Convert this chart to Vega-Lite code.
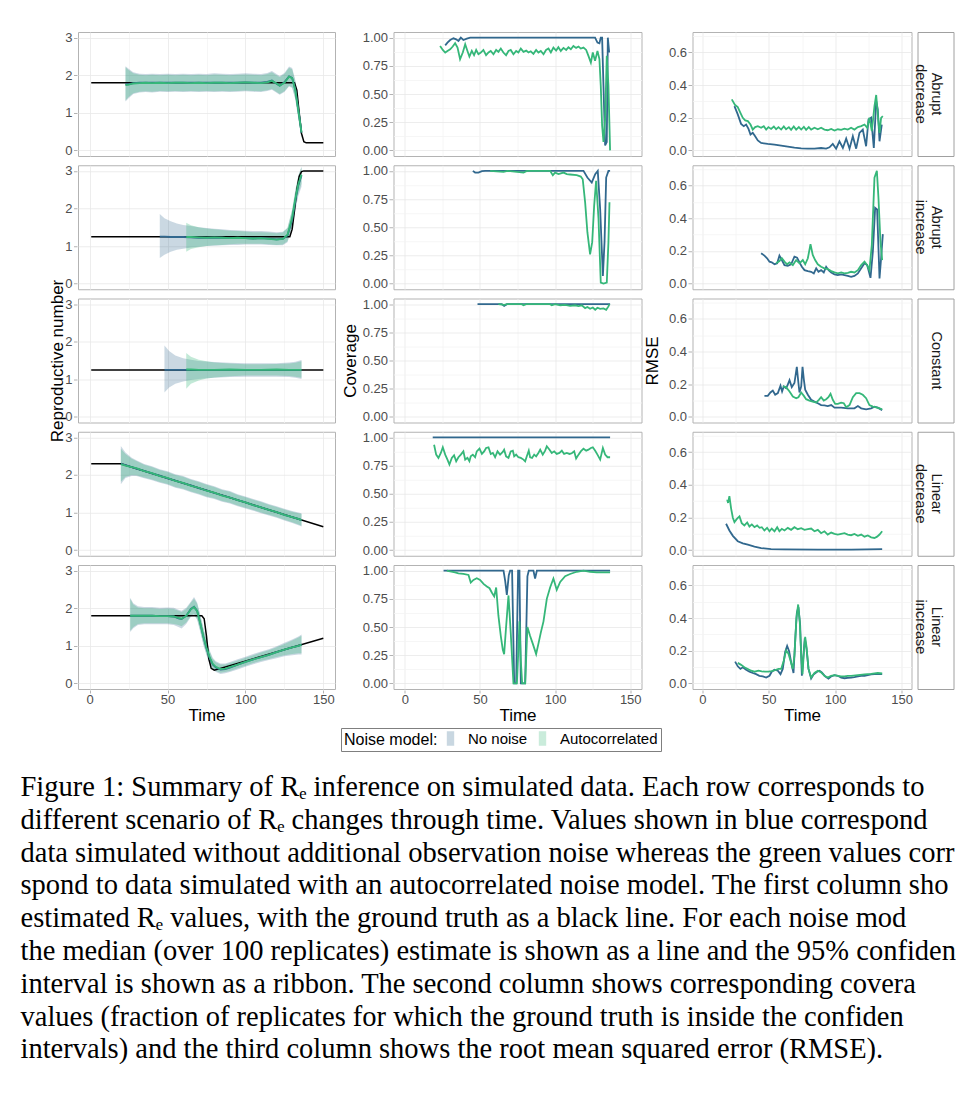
{
  "$schema": "https://vega.github.io/schema/vega-lite/v6.json",
  "padding": {"left": 20, "top": 30, "right": 0, "bottom": 0},
  "background": "white",
  "config": {
    "view": {"stroke": "#b3b3b3", "strokeWidth": 1},
    "font": "Liberation Sans",
    "axis": {
      "labelFont": "Liberation Sans", "labelFontSize": 13, "labelColor": "#4d4d4d",
      "tickColor": "#b3b3b3", "tickSize": 3.5, "labelPadding": 1.5, "domain": false,
      "gridWidth": 0.8, "labelOverlap": false,
      "titleFont": "Liberation Sans", "titleFontSize": 17, "titleFontWeight": "normal", "titleColor": "black"
    },
    "axisX": {"labelPadding": 0.5, "tickSize": 3},
    "header": {"titleFont": "Liberation Sans", "titleFontSize": 17, "titleFontWeight": "normal", "titleColor": "black", "labels": false, "labelPadding": 0},
    "legend": {
      "orient": "bottom", "direction": "horizontal", "titleOrient": "left",
      "titleFont": "Liberation Sans", "titleFontSize": 16, "titleFontWeight": "normal", "titleColor": "black",
      "labelFont": "Liberation Sans", "labelFontSize": 15, "labelColor": "black",
      "symbolType": "M-0.45,-1H0.45V1H-0.45Z M-0.45,0H0.45", "symbolSize": 169,
      "labelOffset": 10, "columnPadding": 7, "titlePadding": 5,
      "strokeColor": "#7f7f7f", "padding": 3, "offset": 4,
      "layout": {"bottom": {"anchor": "middle"}}
    }
  },
  "title": {
    "text": [
      "Figure 1: Summary of Rₑ inference on simulated data. Each row corresponds to",
      "different scenario of Rₑ changes through time. Values shown in blue correspond",
      "data simulated without additional observation noise whereas the green values corr",
      "spond to data simulated with an autocorrelated noise model. The first column sho",
      "estimated Rₑ values, with the ground truth as a black line. For each noise mod",
      "the median (over 100 replicates) estimate is shown as a line and the 95% confiden",
      "interval is shown as a ribbon. The second column shows corresponding covera",
      "values (fraction of replicates for which the ground truth is inside the confiden",
      "intervals) and the third column shows the root mean squared error (RMSE)."
    ],
    "orient": "bottom", "anchor": "start", "font": "Liberation Serif", "fontSize": 28.5,
    "fontWeight": "normal", "color": "black", "lineHeight": 32.8, "offset": 21.5, "dx": -28
  },
  "datasets": {
    "re": [
      {"s":"A","n":"T","t":1,"m":1.8},{"s":"A","n":"T","t":131.5,"m":1.8},{"s":"A","n":"T","t":133,"m":1.6},{"s":"A","n":"T","t":134.5,"m":1.0},{"s":"A","n":"T","t":136,"m":0.45},{"s":"A","n":"T","t":137.5,"m":0.23},{"s":"A","n":"T","t":139,"m":0.2},{"s":"A","n":"T","t":150,"m":0.2},
      {"s":"B","n":"T","t":1,"m":1.25},{"s":"B","n":"T","t":128.5,"m":1.25},{"s":"B","n":"T","t":130,"m":1.45},{"s":"B","n":"T","t":131.5,"m":1.95},{"s":"B","n":"T","t":133,"m":2.5},{"s":"B","n":"T","t":134.5,"m":2.85},{"s":"B","n":"T","t":136,"m":2.98},{"s":"B","n":"T","t":137.5,"m":3.0},{"s":"B","n":"T","t":150,"m":3.0},
      {"s":"C","n":"T","t":1,"m":1.25},{"s":"C","n":"T","t":150,"m":1.25},
      {"s":"D","n":"T","t":1,"m":2.3},{"s":"D","n":"T","t":20,"m":2.3},{"s":"D","n":"T","t":150,"m":0.62},
      {"s":"E","n":"T","t":1,"m":1.8},{"s":"E","n":"T","t":72,"m":1.8},{"s":"E","n":"T","t":73.5,"m":1.72},{"s":"E","n":"T","t":75,"m":1.25},{"s":"E","n":"T","t":76.5,"m":0.65},{"s":"E","n":"T","t":78,"m":0.4},{"s":"E","n":"T","t":80,"m":0.35},{"s":"E","n":"T","t":150,"m":1.2},

      {"s":"A","n":"N","t":23,"m":1.76,"lo":1.3,"hi":2.24},{"s":"A","n":"N","t":25,"m":1.76,"lo":1.39,"hi":2.17},{"s":"A","n":"N","t":28,"m":1.79,"lo":1.5,"hi":2.08},{"s":"A","n":"N","t":32,"m":1.8,"lo":1.54,"hi":2.04},{"s":"A","n":"N","t":36,"m":1.8,"lo":1.55,"hi":2.03},{"s":"A","n":"N","t":40,"m":1.8,"lo":1.54,"hi":2.04},{"s":"A","n":"N","t":45,"m":1.8,"lo":1.56,"hi":2.03},{"s":"A","n":"N","t":50,"m":1.8,"lo":1.55,"hi":2.04},{"s":"A","n":"N","t":55,"m":1.8,"lo":1.56,"hi":2.03},{"s":"A","n":"N","t":60,"m":1.8,"lo":1.55,"hi":2.04},{"s":"A","n":"N","t":65,"m":1.8,"lo":1.56,"hi":2.03},{"s":"A","n":"N","t":70,"m":1.8,"lo":1.55,"hi":2.04},{"s":"A","n":"N","t":75,"m":1.8,"lo":1.56,"hi":2.03},{"s":"A","n":"N","t":80,"m":1.8,"lo":1.55,"hi":2.05},{"s":"A","n":"N","t":85,"m":1.8,"lo":1.56,"hi":2.04},{"s":"A","n":"N","t":90,"m":1.8,"lo":1.55,"hi":2.03},{"s":"A","n":"N","t":95,"m":1.8,"lo":1.56,"hi":2.04},{"s":"A","n":"N","t":100,"m":1.81,"lo":1.57,"hi":2.05},{"s":"A","n":"N","t":105,"m":1.8,"lo":1.56,"hi":2.04},{"s":"A","n":"N","t":110,"m":1.8,"lo":1.55,"hi":2.03},{"s":"A","n":"N","t":114,"m":1.82,"lo":1.58,"hi":2.06},{"s":"A","n":"N","t":117,"m":1.86,"lo":1.61,"hi":2.11},{"s":"A","n":"N","t":120,"m":1.77,"lo":1.53,"hi":2.03},{"s":"A","n":"N","t":122,"m":1.72,"lo":1.48,"hi":1.98},{"s":"A","n":"N","t":125,"m":1.81,"lo":1.55,"hi":2.06},{"s":"A","n":"N","t":128,"m":1.97,"lo":1.7,"hi":2.23},{"s":"A","n":"N","t":130,"m":1.93,"lo":1.66,"hi":2.19},{"s":"A","n":"N","t":132,"m":1.62,"lo":1.36,"hi":1.87},{"s":"A","n":"N","t":134,"m":1.06,"lo":0.83,"hi":1.31},{"s":"A","n":"N","t":136,"m":0.47,"lo":0.3,"hi":0.69},
      {"s":"A","n":"A","t":23,"m":1.74,"lo":1.33,"hi":2.21},{"s":"A","n":"A","t":25,"m":1.75,"lo":1.42,"hi":2.14},{"s":"A","n":"A","t":28,"m":1.78,"lo":1.52,"hi":2.05},{"s":"A","n":"A","t":32,"m":1.79,"lo":1.56,"hi":2.01},{"s":"A","n":"A","t":36,"m":1.8,"lo":1.57,"hi":2.0},{"s":"A","n":"A","t":40,"m":1.79,"lo":1.56,"hi":2.01},{"s":"A","n":"A","t":45,"m":1.8,"lo":1.58,"hi":2.0},{"s":"A","n":"A","t":50,"m":1.79,"lo":1.57,"hi":2.01},{"s":"A","n":"A","t":55,"m":1.8,"lo":1.58,"hi":2.0},{"s":"A","n":"A","t":60,"m":1.8,"lo":1.57,"hi":2.01},{"s":"A","n":"A","t":65,"m":1.79,"lo":1.58,"hi":2.0},{"s":"A","n":"A","t":70,"m":1.8,"lo":1.57,"hi":2.01},{"s":"A","n":"A","t":75,"m":1.79,"lo":1.58,"hi":2.0},{"s":"A","n":"A","t":80,"m":1.8,"lo":1.57,"hi":2.02},{"s":"A","n":"A","t":85,"m":1.8,"lo":1.58,"hi":2.01},{"s":"A","n":"A","t":90,"m":1.79,"lo":1.57,"hi":2.0},{"s":"A","n":"A","t":95,"m":1.8,"lo":1.58,"hi":2.01},{"s":"A","n":"A","t":100,"m":1.81,"lo":1.59,"hi":2.02},{"s":"A","n":"A","t":105,"m":1.8,"lo":1.58,"hi":2.01},{"s":"A","n":"A","t":110,"m":1.79,"lo":1.57,"hi":2.0},{"s":"A","n":"A","t":114,"m":1.81,"lo":1.6,"hi":2.03},{"s":"A","n":"A","t":117,"m":1.85,"lo":1.63,"hi":2.08},{"s":"A","n":"A","t":120,"m":1.78,"lo":1.55,"hi":2.0},{"s":"A","n":"A","t":122,"m":1.72,"lo":1.5,"hi":1.95},{"s":"A","n":"A","t":125,"m":1.8,"lo":1.57,"hi":2.03},{"s":"A","n":"A","t":128,"m":1.96,"lo":1.72,"hi":2.2},{"s":"A","n":"A","t":130,"m":1.92,"lo":1.68,"hi":2.16},{"s":"A","n":"A","t":132,"m":1.6,"lo":1.38,"hi":1.84},{"s":"A","n":"A","t":134,"m":1.05,"lo":0.85,"hi":1.28},{"s":"A","n":"A","t":136,"m":0.48,"lo":0.32,"hi":0.66},

      {"s":"B","n":"N","t":45,"m":1.25,"lo":0.68,"hi":1.85},{"s":"B","n":"N","t":48,"m":1.25,"lo":0.77,"hi":1.74},{"s":"B","n":"N","t":52,"m":1.24,"lo":0.85,"hi":1.66},{"s":"B","n":"N","t":56,"m":1.24,"lo":0.9,"hi":1.6},{"s":"B","n":"N","t":60,"m":1.24,"lo":0.93,"hi":1.56},{"s":"B","n":"N","t":65,"m":1.23,"lo":0.96,"hi":1.53},{"s":"B","n":"N","t":70,"m":1.22,"lo":0.98,"hi":1.5},{"s":"B","n":"N","t":75,"m":1.22,"lo":1.0,"hi":1.48},{"s":"B","n":"N","t":80,"m":1.22,"lo":1.01,"hi":1.46},{"s":"B","n":"N","t":85,"m":1.22,"lo":1.02,"hi":1.45},{"s":"B","n":"N","t":90,"m":1.21,"lo":1.03,"hi":1.43},{"s":"B","n":"N","t":95,"m":1.21,"lo":1.03,"hi":1.42},{"s":"B","n":"N","t":100,"m":1.21,"lo":1.04,"hi":1.41},{"s":"B","n":"N","t":105,"m":1.2,"lo":1.04,"hi":1.4},{"s":"B","n":"N","t":110,"m":1.21,"lo":1.04,"hi":1.4},{"s":"B","n":"N","t":115,"m":1.2,"lo":1.03,"hi":1.39},{"s":"B","n":"N","t":120,"m":1.18,"lo":1.02,"hi":1.37},{"s":"B","n":"N","t":124,"m":1.19,"lo":1.02,"hi":1.38},{"s":"B","n":"N","t":127,"m":1.28,"lo":1.1,"hi":1.48},{"s":"B","n":"N","t":130,"m":1.7,"lo":1.48,"hi":1.95},{"s":"B","n":"N","t":132,"m":2.2,"lo":1.94,"hi":2.46},{"s":"B","n":"N","t":134,"m":2.62,"lo":2.34,"hi":2.87},{"s":"B","n":"N","t":136,"m":2.88,"lo":2.58,"hi":3.12},
      {"s":"B","n":"A","t":62,"m":1.24,"lo":0.85,"hi":1.62},{"s":"B","n":"A","t":65,"m":1.24,"lo":0.92,"hi":1.55},{"s":"B","n":"A","t":70,"m":1.23,"lo":0.97,"hi":1.5},{"s":"B","n":"A","t":75,"m":1.22,"lo":1.0,"hi":1.47},{"s":"B","n":"A","t":80,"m":1.23,"lo":1.02,"hi":1.45},{"s":"B","n":"A","t":85,"m":1.22,"lo":1.03,"hi":1.43},{"s":"B","n":"A","t":90,"m":1.21,"lo":1.05,"hi":1.41},{"s":"B","n":"A","t":95,"m":1.22,"lo":1.06,"hi":1.4},{"s":"B","n":"A","t":100,"m":1.21,"lo":1.06,"hi":1.39},{"s":"B","n":"A","t":105,"m":1.2,"lo":1.06,"hi":1.37},{"s":"B","n":"A","t":110,"m":1.21,"lo":1.06,"hi":1.37},{"s":"B","n":"A","t":115,"m":1.19,"lo":1.05,"hi":1.36},{"s":"B","n":"A","t":120,"m":1.17,"lo":1.03,"hi":1.34},{"s":"B","n":"A","t":124,"m":1.19,"lo":1.04,"hi":1.36},{"s":"B","n":"A","t":127,"m":1.3,"lo":1.13,"hi":1.49},{"s":"B","n":"A","t":130,"m":1.75,"lo":1.56,"hi":1.98},{"s":"B","n":"A","t":132,"m":2.25,"lo":2.02,"hi":2.48},{"s":"B","n":"A","t":134,"m":2.65,"lo":2.42,"hi":2.88},{"s":"B","n":"A","t":136,"m":2.9,"lo":2.66,"hi":3.1},

      {"s":"C","n":"N","t":48,"m":1.25,"lo":0.65,"hi":1.9},{"s":"C","n":"N","t":51,"m":1.25,"lo":0.78,"hi":1.75},{"s":"C","n":"N","t":55,"m":1.25,"lo":0.88,"hi":1.63},{"s":"C","n":"N","t":60,"m":1.25,"lo":0.94,"hi":1.56},{"s":"C","n":"N","t":65,"m":1.25,"lo":0.98,"hi":1.52},{"s":"C","n":"N","t":70,"m":1.25,"lo":1.01,"hi":1.49},{"s":"C","n":"N","t":80,"m":1.25,"lo":1.04,"hi":1.46},{"s":"C","n":"N","t":90,"m":1.25,"lo":1.06,"hi":1.44},{"s":"C","n":"N","t":100,"m":1.25,"lo":1.07,"hi":1.43},{"s":"C","n":"N","t":110,"m":1.25,"lo":1.07,"hi":1.43},{"s":"C","n":"N","t":120,"m":1.25,"lo":1.07,"hi":1.43},{"s":"C","n":"N","t":128,"m":1.25,"lo":1.06,"hi":1.45},{"s":"C","n":"N","t":132,"m":1.25,"lo":1.04,"hi":1.47},{"s":"C","n":"N","t":136,"m":1.25,"lo":1.01,"hi":1.51},
      {"s":"C","n":"A","t":62,"m":1.26,"lo":0.75,"hi":1.7},{"s":"C","n":"A","t":65,"m":1.26,"lo":0.88,"hi":1.6},{"s":"C","n":"A","t":70,"m":1.25,"lo":0.97,"hi":1.52},{"s":"C","n":"A","t":75,"m":1.25,"lo":1.02,"hi":1.48},{"s":"C","n":"A","t":80,"m":1.25,"lo":1.05,"hi":1.45},{"s":"C","n":"A","t":90,"m":1.26,"lo":1.08,"hi":1.42},{"s":"C","n":"A","t":100,"m":1.25,"lo":1.1,"hi":1.4},{"s":"C","n":"A","t":110,"m":1.25,"lo":1.1,"hi":1.4},{"s":"C","n":"A","t":120,"m":1.26,"lo":1.1,"hi":1.41},{"s":"C","n":"A","t":128,"m":1.25,"lo":1.09,"hi":1.42},{"s":"C","n":"A","t":132,"m":1.25,"lo":1.07,"hi":1.44},{"s":"C","n":"A","t":136,"m":1.25,"lo":1.04,"hi":1.48},

      {"s":"D","n":"N","t":20,"m":2.3,"lo":1.75,"hi":2.77},{"s":"D","n":"N","t":23,"m":2.26,"lo":1.92,"hi":2.6},{"s":"D","n":"N","t":27,"m":2.21,"lo":1.97,"hi":2.46},{"s":"D","n":"N","t":30,"m":2.17,"lo":1.97,"hi":2.39},{"s":"D","n":"N","t":35,"m":2.11,"lo":1.91,"hi":2.29},{"s":"D","n":"N","t":40,"m":2.04,"lo":1.86,"hi":2.23},{"s":"D","n":"N","t":45,"m":1.98,"lo":1.79,"hi":2.15},{"s":"D","n":"N","t":50,"m":1.91,"lo":1.74,"hi":2.1},{"s":"D","n":"N","t":55,"m":1.85,"lo":1.66,"hi":2.02},{"s":"D","n":"N","t":60,"m":1.78,"lo":1.61,"hi":1.97},{"s":"D","n":"N","t":65,"m":1.72,"lo":1.54,"hi":1.89},{"s":"D","n":"N","t":70,"m":1.65,"lo":1.48,"hi":1.83},{"s":"D","n":"N","t":75,"m":1.59,"lo":1.41,"hi":1.76},{"s":"D","n":"N","t":80,"m":1.52,"lo":1.36,"hi":1.7},{"s":"D","n":"N","t":85,"m":1.46,"lo":1.29,"hi":1.62},{"s":"D","n":"N","t":90,"m":1.4,"lo":1.24,"hi":1.57},{"s":"D","n":"N","t":95,"m":1.33,"lo":1.17,"hi":1.49},{"s":"D","n":"N","t":100,"m":1.27,"lo":1.11,"hi":1.43},{"s":"D","n":"N","t":105,"m":1.2,"lo":1.05,"hi":1.36},{"s":"D","n":"N","t":110,"m":1.14,"lo":0.98,"hi":1.3},{"s":"D","n":"N","t":115,"m":1.07,"lo":0.92,"hi":1.23},{"s":"D","n":"N","t":120,"m":1.01,"lo":0.86,"hi":1.17},{"s":"D","n":"N","t":125,"m":0.94,"lo":0.79,"hi":1.1},{"s":"D","n":"N","t":130,"m":0.88,"lo":0.72,"hi":1.04},{"s":"D","n":"N","t":134,"m":0.83,"lo":0.66,"hi":1.0},{"s":"D","n":"N","t":136,"m":0.8,"lo":0.63,"hi":0.98},
      {"s":"D","n":"A","t":20,"m":2.29,"lo":1.82,"hi":2.7},{"s":"D","n":"A","t":23,"m":2.25,"lo":1.95,"hi":2.56},{"s":"D","n":"A","t":27,"m":2.21,"lo":2.0,"hi":2.43},{"s":"D","n":"A","t":30,"m":2.18,"lo":1.99,"hi":2.37},{"s":"D","n":"A","t":35,"m":2.1,"lo":1.93,"hi":2.27},{"s":"D","n":"A","t":40,"m":2.05,"lo":1.88,"hi":2.21},{"s":"D","n":"A","t":45,"m":1.97,"lo":1.81,"hi":2.13},{"s":"D","n":"A","t":50,"m":1.92,"lo":1.76,"hi":2.08},{"s":"D","n":"A","t":55,"m":1.84,"lo":1.68,"hi":2.0},{"s":"D","n":"A","t":60,"m":1.79,"lo":1.63,"hi":1.95},{"s":"D","n":"A","t":65,"m":1.71,"lo":1.56,"hi":1.87},{"s":"D","n":"A","t":70,"m":1.66,"lo":1.5,"hi":1.81},{"s":"D","n":"A","t":75,"m":1.58,"lo":1.43,"hi":1.74},{"s":"D","n":"A","t":80,"m":1.53,"lo":1.38,"hi":1.68},{"s":"D","n":"A","t":85,"m":1.45,"lo":1.31,"hi":1.6},{"s":"D","n":"A","t":90,"m":1.4,"lo":1.26,"hi":1.55},{"s":"D","n":"A","t":95,"m":1.33,"lo":1.19,"hi":1.47},{"s":"D","n":"A","t":100,"m":1.27,"lo":1.13,"hi":1.41},{"s":"D","n":"A","t":105,"m":1.2,"lo":1.07,"hi":1.34},{"s":"D","n":"A","t":110,"m":1.14,"lo":1.0,"hi":1.28},{"s":"D","n":"A","t":115,"m":1.07,"lo":0.94,"hi":1.21},{"s":"D","n":"A","t":120,"m":1.01,"lo":0.88,"hi":1.15},{"s":"D","n":"A","t":125,"m":0.94,"lo":0.81,"hi":1.08},{"s":"D","n":"A","t":130,"m":0.88,"lo":0.74,"hi":1.02},{"s":"D","n":"A","t":134,"m":0.83,"lo":0.68,"hi":0.98},{"s":"D","n":"A","t":136,"m":0.8,"lo":0.65,"hi":0.96},

      {"s":"E","n":"N","t":26,"m":1.8,"lo":1.37,"hi":2.28},{"s":"E","n":"N","t":28,"m":1.8,"lo":1.47,"hi":2.13},{"s":"E","n":"N","t":31,"m":1.8,"lo":1.55,"hi":2.05},{"s":"E","n":"N","t":35,"m":1.8,"lo":1.57,"hi":2.03},{"s":"E","n":"N","t":40,"m":1.8,"lo":1.57,"hi":2.03},{"s":"E","n":"N","t":45,"m":1.79,"lo":1.57,"hi":2.01},{"s":"E","n":"N","t":50,"m":1.79,"lo":1.57,"hi":2.02},{"s":"E","n":"N","t":54,"m":1.78,"lo":1.55,"hi":2.01},{"s":"E","n":"N","t":57,"m":1.73,"lo":1.5,"hi":1.96},{"s":"E","n":"N","t":59,"m":1.71,"lo":1.46,"hi":1.93},{"s":"E","n":"N","t":62,"m":1.8,"lo":1.58,"hi":2.01},{"s":"E","n":"N","t":65,"m":1.98,"lo":1.77,"hi":2.18},{"s":"E","n":"N","t":67,"m":2.04,"lo":1.82,"hi":2.3},{"s":"E","n":"N","t":69,"m":1.93,"lo":1.69,"hi":2.15},{"s":"E","n":"N","t":71,"m":1.6,"lo":1.37,"hi":1.83},{"s":"E","n":"N","t":73,"m":1.24,"lo":1.02,"hi":1.48},{"s":"E","n":"N","t":75,"m":0.93,"lo":0.75,"hi":1.15},{"s":"E","n":"N","t":77,"m":0.68,"lo":0.52,"hi":0.88},{"s":"E","n":"N","t":79,"m":0.5,"lo":0.37,"hi":0.68},{"s":"E","n":"N","t":81,"m":0.42,"lo":0.3,"hi":0.59},{"s":"E","n":"N","t":84,"m":0.37,"lo":0.25,"hi":0.53},{"s":"E","n":"N","t":87,"m":0.38,"lo":0.27,"hi":0.53},{"s":"E","n":"N","t":90,"m":0.42,"lo":0.3,"hi":0.57},{"s":"E","n":"N","t":95,"m":0.5,"lo":0.37,"hi":0.64},{"s":"E","n":"N","t":100,"m":0.57,"lo":0.44,"hi":0.71},{"s":"E","n":"N","t":105,"m":0.64,"lo":0.51,"hi":0.78},{"s":"E","n":"N","t":110,"m":0.7,"lo":0.57,"hi":0.85},{"s":"E","n":"N","t":115,"m":0.76,"lo":0.62,"hi":0.91},{"s":"E","n":"N","t":120,"m":0.83,"lo":0.67,"hi":0.99},{"s":"E","n":"N","t":125,"m":0.9,"lo":0.72,"hi":1.08},{"s":"E","n":"N","t":130,"m":0.96,"lo":0.75,"hi":1.17},{"s":"E","n":"N","t":134,"m":1.0,"lo":0.77,"hi":1.25},{"s":"E","n":"N","t":136,"m":1.03,"lo":0.77,"hi":1.3},
      {"s":"E","n":"A","t":26,"m":1.8,"lo":1.4,"hi":2.25},{"s":"E","n":"A","t":28,"m":1.8,"lo":1.5,"hi":2.1},{"s":"E","n":"A","t":31,"m":1.8,"lo":1.58,"hi":2.02},{"s":"E","n":"A","t":35,"m":1.8,"lo":1.6,"hi":2.0},{"s":"E","n":"A","t":40,"m":1.8,"lo":1.6,"hi":2.0},{"s":"E","n":"A","t":45,"m":1.79,"lo":1.6,"hi":1.98},{"s":"E","n":"A","t":50,"m":1.79,"lo":1.6,"hi":1.99},{"s":"E","n":"A","t":54,"m":1.78,"lo":1.58,"hi":1.98},{"s":"E","n":"A","t":57,"m":1.74,"lo":1.55,"hi":1.93},{"s":"E","n":"A","t":59,"m":1.72,"lo":1.52,"hi":1.9},{"s":"E","n":"A","t":62,"m":1.8,"lo":1.62,"hi":1.98},{"s":"E","n":"A","t":65,"m":1.97,"lo":1.8,"hi":2.15},{"s":"E","n":"A","t":67,"m":2.03,"lo":1.85,"hi":2.25},{"s":"E","n":"A","t":69,"m":1.92,"lo":1.72,"hi":2.12},{"s":"E","n":"A","t":71,"m":1.6,"lo":1.4,"hi":1.8},{"s":"E","n":"A","t":73,"m":1.25,"lo":1.05,"hi":1.45},{"s":"E","n":"A","t":75,"m":0.95,"lo":0.78,"hi":1.12},{"s":"E","n":"A","t":77,"m":0.7,"lo":0.55,"hi":0.85},{"s":"E","n":"A","t":79,"m":0.52,"lo":0.4,"hi":0.65},{"s":"E","n":"A","t":81,"m":0.44,"lo":0.33,"hi":0.56},{"s":"E","n":"A","t":84,"m":0.38,"lo":0.28,"hi":0.5},{"s":"E","n":"A","t":87,"m":0.39,"lo":0.3,"hi":0.5},{"s":"E","n":"A","t":90,"m":0.43,"lo":0.33,"hi":0.54},{"s":"E","n":"A","t":95,"m":0.5,"lo":0.4,"hi":0.61},{"s":"E","n":"A","t":100,"m":0.57,"lo":0.47,"hi":0.68},{"s":"E","n":"A","t":105,"m":0.64,"lo":0.54,"hi":0.75},{"s":"E","n":"A","t":110,"m":0.7,"lo":0.6,"hi":0.82},{"s":"E","n":"A","t":115,"m":0.76,"lo":0.65,"hi":0.88},{"s":"E","n":"A","t":120,"m":0.83,"lo":0.7,"hi":0.96},{"s":"E","n":"A","t":125,"m":0.9,"lo":0.75,"hi":1.05},{"s":"E","n":"A","t":130,"m":0.96,"lo":0.78,"hi":1.14},{"s":"E","n":"A","t":134,"m":1.0,"lo":0.8,"hi":1.22},{"s":"E","n":"A","t":136,"m":1.03,"lo":0.8,"hi":1.27}
    ],
    "cov": [
      {"s":"A","n":"N","t":26.9,"v":0.932},{"s":"A","n":"N","t":28.4,"v":0.956},{"s":"A","n":"N","t":30.2,"v":0.979},{"s":"A","n":"N","t":32.4,"v":0.994},{"s":"A","n":"N","t":34.2,"v":0.985},{"s":"A","n":"N","t":35.7,"v":0.971},{"s":"A","n":"N","t":37.3,"v":1.0},{"s":"A","n":"N","t":39.0,"v":0.979},{"s":"A","n":"N","t":41.3,"v":0.991},{"s":"A","n":"N","t":43.5,"v":1.0},{"s":"A","n":"N","t":126.6,"v":1.0},{"s":"A","n":"N","t":128.2,"v":0.956},{"s":"A","n":"N","t":129.5,"v":0.95},{"s":"A","n":"N","t":130.4,"v":1.0},{"s":"A","n":"N","t":131.3,"v":1.0},{"s":"A","n":"N","t":132.2,"v":0.574},{"s":"A","n":"N","t":133.3,"v":0.044},{"s":"A","n":"N","t":134.4,"v":0.074},{"s":"A","n":"N","t":135.1,"v":1.0},{"s":"A","n":"N","t":136.0,"v":0.868},
      {"s":"A","n":"A","t":23.5,"v":0.926},{"s":"A","n":"A","t":25.3,"v":0.891},{"s":"A","n":"A","t":26.9,"v":0.868},{"s":"A","n":"A","t":28.4,"v":0.882},{"s":"A","n":"A","t":30.2,"v":0.897},{"s":"A","n":"A","t":31.9,"v":0.921},{"s":"A","n":"A","t":33.5,"v":0.95},{"s":"A","n":"A","t":35.1,"v":0.912},{"s":"A","n":"A","t":36.8,"v":0.809},{"s":"A","n":"A","t":38.6,"v":0.868},{"s":"A","n":"A","t":40.2,"v":0.941},{"s":"A","n":"A","t":41.7,"v":0.882},{"s":"A","n":"A","t":43.0,"v":0.832},{"s":"A","n":"A","t":44.6,"v":0.882},{"s":"A","n":"A","t":46.1,"v":0.844},{"s":"A","n":"A","t":47.5,"v":0.891},{"s":"A","n":"A","t":49.0,"v":0.853},{"s":"A","n":"A","t":50.6,"v":0.868},{"s":"A","n":"A","t":52.3,"v":0.891},{"s":"A","n":"A","t":54.1,"v":0.844},{"s":"A","n":"A","t":55.7,"v":0.868},{"s":"A","n":"A","t":57.2,"v":0.882},{"s":"A","n":"A","t":59.0,"v":0.853},{"s":"A","n":"A","t":60.8,"v":0.891},{"s":"A","n":"A","t":62.3,"v":0.874},{"s":"A","n":"A","t":63.9,"v":0.903},{"s":"A","n":"A","t":65.6,"v":0.868},{"s":"A","n":"A","t":67.4,"v":0.844},{"s":"A","n":"A","t":69.0,"v":0.882},{"s":"A","n":"A","t":70.5,"v":0.891},{"s":"A","n":"A","t":72.3,"v":0.853},{"s":"A","n":"A","t":74.1,"v":0.882},{"s":"A","n":"A","t":75.6,"v":0.868},{"s":"A","n":"A","t":77.2,"v":0.903},{"s":"A","n":"A","t":79.0,"v":0.874},{"s":"A","n":"A","t":80.8,"v":0.885},{"s":"A","n":"A","t":82.3,"v":0.868},{"s":"A","n":"A","t":83.8,"v":0.879},{"s":"A","n":"A","t":85.6,"v":0.856},{"s":"A","n":"A","t":87.4,"v":0.891},{"s":"A","n":"A","t":88.9,"v":0.868},{"s":"A","n":"A","t":90.5,"v":0.882},{"s":"A","n":"A","t":92.3,"v":0.853},{"s":"A","n":"A","t":94.0,"v":0.891},{"s":"A","n":"A","t":95.6,"v":0.903},{"s":"A","n":"A","t":97.2,"v":0.868},{"s":"A","n":"A","t":98.9,"v":0.912},{"s":"A","n":"A","t":100.7,"v":0.885},{"s":"A","n":"A","t":102.2,"v":0.915},{"s":"A","n":"A","t":103.8,"v":0.882},{"s":"A","n":"A","t":105.6,"v":0.909},{"s":"A","n":"A","t":107.4,"v":0.891},{"s":"A","n":"A","t":108.9,"v":0.915},{"s":"A","n":"A","t":110.5,"v":0.897},{"s":"A","n":"A","t":112.2,"v":0.926},{"s":"A","n":"A","t":114.0,"v":0.909},{"s":"A","n":"A","t":115.6,"v":0.921},{"s":"A","n":"A","t":117.1,"v":0.903},{"s":"A","n":"A","t":118.9,"v":0.912},{"s":"A","n":"A","t":120.7,"v":0.891},{"s":"A","n":"A","t":122.2,"v":0.838},{"s":"A","n":"A","t":123.8,"v":0.779},{"s":"A","n":"A","t":125.1,"v":0.868},{"s":"A","n":"A","t":126.6,"v":0.794},{"s":"A","n":"A","t":128.2,"v":0.882},{"s":"A","n":"A","t":129.5,"v":0.809},{"s":"A","n":"A","t":130.4,"v":0.574},{"s":"A","n":"A","t":131.3,"v":0.221},{"s":"A","n":"A","t":132.2,"v":0.074},{"s":"A","n":"A","t":133.3,"v":0.279},{"s":"A","n":"A","t":134.4,"v":0.838},{"s":"A","n":"A","t":135.5,"v":0.574},{"s":"A","n":"A","t":136.6,"v":0.0},

      {"s":"B","n":"N","t":45.3,"v":1.0},{"s":"B","n":"N","t":46.8,"v":0.985},{"s":"B","n":"N","t":49.0,"v":0.985},{"s":"B","n":"N","t":51.3,"v":0.997},{"s":"B","n":"N","t":53.5,"v":1.0},{"s":"B","n":"N","t":118.9,"v":1.0},{"s":"B","n":"N","t":121.5,"v":0.941},{"s":"B","n":"N","t":124.4,"v":0.897},{"s":"B","n":"N","t":126.7,"v":0.971},{"s":"B","n":"N","t":128.4,"v":1.0},{"s":"B","n":"N","t":130.0,"v":0.662},{"s":"B","n":"N","t":131.8,"v":0.068},{"s":"B","n":"N","t":132.9,"v":0.368},{"s":"B","n":"N","t":134.0,"v":0.941},{"s":"B","n":"N","t":135.5,"v":1.0},{"s":"B","n":"N","t":136.6,"v":1.0},
      {"s":"B","n":"A","t":56.8,"v":1.0},{"s":"B","n":"A","t":65.7,"v":0.991},{"s":"B","n":"A","t":68.3,"v":1.0},{"s":"B","n":"A","t":79.0,"v":0.985},{"s":"B","n":"A","t":81.2,"v":1.0},{"s":"B","n":"A","t":96.7,"v":1.0},{"s":"B","n":"A","t":98.5,"v":0.962},{"s":"B","n":"A","t":100.0,"v":0.985},{"s":"B","n":"A","t":102.3,"v":0.971},{"s":"B","n":"A","t":105.6,"v":0.985},{"s":"B","n":"A","t":107.8,"v":0.971},{"s":"B","n":"A","t":110.0,"v":0.968},{"s":"B","n":"A","t":114.4,"v":0.962},{"s":"B","n":"A","t":117.1,"v":0.95},{"s":"B","n":"A","t":118.4,"v":0.926},{"s":"B","n":"A","t":120.0,"v":0.721},{"s":"B","n":"A","t":121.5,"v":0.456},{"s":"B","n":"A","t":123.3,"v":0.259},{"s":"B","n":"A","t":124.7,"v":0.368},{"s":"B","n":"A","t":126.0,"v":0.691},{"s":"B","n":"A","t":127.3,"v":0.912},{"s":"B","n":"A","t":128.9,"v":0.574},{"s":"B","n":"A","t":130.4,"v":0.009},{"s":"B","n":"A","t":132.2,"v":0.0},{"s":"B","n":"A","t":134.4,"v":0.009},{"s":"B","n":"A","t":135.5,"v":0.368},{"s":"B","n":"A","t":136.2,"v":0.721},

      {"s":"C","n":"N","t":48.4,"v":1.0},{"s":"C","n":"N","t":64.5,"v":1.0},{"s":"C","n":"N","t":66.1,"v":0.985},{"s":"C","n":"N","t":67.9,"v":1.0},{"s":"C","n":"N","t":136.6,"v":1.0},
      {"s":"C","n":"A","t":62.3,"v":1.0},{"s":"C","n":"A","t":66.1,"v":0.994},{"s":"C","n":"A","t":68.3,"v":1.0},{"s":"C","n":"A","t":77.9,"v":1.0},{"s":"C","n":"A","t":79.0,"v":0.99},{"s":"C","n":"A","t":80.7,"v":1.0},{"s":"C","n":"A","t":96.7,"v":1.0},{"s":"C","n":"A","t":97.8,"v":0.99},{"s":"C","n":"A","t":100.0,"v":1.0},{"s":"C","n":"A","t":103.4,"v":0.99},{"s":"C","n":"A","t":106.7,"v":0.994},{"s":"C","n":"A","t":110.0,"v":0.985},{"s":"C","n":"A","t":113.3,"v":0.99},{"s":"C","n":"A","t":115.6,"v":0.982},{"s":"C","n":"A","t":117.8,"v":0.99},{"s":"C","n":"A","t":120.0,"v":0.965},{"s":"C","n":"A","t":121.5,"v":0.975},{"s":"C","n":"A","t":123.3,"v":0.959},{"s":"C","n":"A","t":125.1,"v":0.97},{"s":"C","n":"A","t":126.7,"v":0.95},{"s":"C","n":"A","t":128.2,"v":0.968},{"s":"C","n":"A","t":130.0,"v":0.958},{"s":"C","n":"A","t":132.2,"v":0.962},{"s":"C","n":"A","t":134.0,"v":0.95},{"s":"C","n":"A","t":135.5,"v":0.98},{"s":"C","n":"A","t":136.2,"v":1.0},

      {"s":"D","n":"N","t":18.6,"v":1.0},{"s":"D","n":"N","t":136.6,"v":1.0},
      {"s":"D","n":"A","t":19.5,"v":0.935},{"s":"D","n":"A","t":20.9,"v":0.847},{"s":"D","n":"A","t":22.4,"v":0.818},{"s":"D","n":"A","t":24.0,"v":0.862},{"s":"D","n":"A","t":25.3,"v":0.912},{"s":"D","n":"A","t":26.9,"v":0.847},{"s":"D","n":"A","t":28.4,"v":0.803},{"s":"D","n":"A","t":29.7,"v":0.759},{"s":"D","n":"A","t":31.3,"v":0.818},{"s":"D","n":"A","t":32.8,"v":0.841},{"s":"D","n":"A","t":34.2,"v":0.788},{"s":"D","n":"A","t":35.7,"v":0.824},{"s":"D","n":"A","t":37.3,"v":0.847},{"s":"D","n":"A","t":39.0,"v":0.876},{"s":"D","n":"A","t":40.2,"v":0.803},{"s":"D","n":"A","t":41.7,"v":0.818},{"s":"D","n":"A","t":43.0,"v":0.788},{"s":"D","n":"A","t":43.9,"v":0.832},{"s":"D","n":"A","t":45.3,"v":0.847},{"s":"D","n":"A","t":46.8,"v":0.824},{"s":"D","n":"A","t":47.9,"v":0.876},{"s":"D","n":"A","t":49.7,"v":0.9},{"s":"D","n":"A","t":51.3,"v":0.853},{"s":"D","n":"A","t":52.8,"v":0.876},{"s":"D","n":"A","t":54.1,"v":0.906},{"s":"D","n":"A","t":55.7,"v":0.912},{"s":"D","n":"A","t":57.2,"v":0.853},{"s":"D","n":"A","t":58.6,"v":0.862},{"s":"D","n":"A","t":60.1,"v":0.824},{"s":"D","n":"A","t":61.7,"v":0.876},{"s":"D","n":"A","t":63.4,"v":0.847},{"s":"D","n":"A","t":65.2,"v":0.871},{"s":"D","n":"A","t":66.1,"v":0.891},{"s":"D","n":"A","t":67.4,"v":0.832},{"s":"D","n":"A","t":69.0,"v":0.818},{"s":"D","n":"A","t":70.5,"v":0.876},{"s":"D","n":"A","t":71.9,"v":0.882},{"s":"D","n":"A","t":72.8,"v":0.832},{"s":"D","n":"A","t":74.1,"v":0.847},{"s":"D","n":"A","t":75.6,"v":0.824},{"s":"D","n":"A","t":77.2,"v":0.818},{"s":"D","n":"A","t":79.0,"v":0.803},{"s":"D","n":"A","t":80.1,"v":0.788},{"s":"D","n":"A","t":81.2,"v":0.832},{"s":"D","n":"A","t":82.5,"v":0.882},{"s":"D","n":"A","t":83.4,"v":0.824},{"s":"D","n":"A","t":84.7,"v":0.818},{"s":"D","n":"A","t":86.1,"v":0.847},{"s":"D","n":"A","t":87.4,"v":0.832},{"s":"D","n":"A","t":88.9,"v":0.862},{"s":"D","n":"A","t":90.1,"v":0.891},{"s":"D","n":"A","t":91.8,"v":0.847},{"s":"D","n":"A","t":93.4,"v":0.882},{"s":"D","n":"A","t":94.5,"v":0.921},{"s":"D","n":"A","t":96.3,"v":0.891},{"s":"D","n":"A","t":97.8,"v":0.862},{"s":"D","n":"A","t":99.4,"v":0.876},{"s":"D","n":"A","t":101.1,"v":0.853},{"s":"D","n":"A","t":102.9,"v":0.862},{"s":"D","n":"A","t":104.5,"v":0.882},{"s":"D","n":"A","t":106.0,"v":0.853},{"s":"D","n":"A","t":107.8,"v":0.862},{"s":"D","n":"A","t":109.6,"v":0.853},{"s":"D","n":"A","t":111.1,"v":0.859},{"s":"D","n":"A","t":112.7,"v":0.876},{"s":"D","n":"A","t":114.0,"v":0.812},{"s":"D","n":"A","t":115.6,"v":0.847},{"s":"D","n":"A","t":117.1,"v":0.876},{"s":"D","n":"A","t":118.9,"v":0.9},{"s":"D","n":"A","t":120.7,"v":0.882},{"s":"D","n":"A","t":122.2,"v":0.891},{"s":"D","n":"A","t":123.8,"v":0.906},{"s":"D","n":"A","t":125.1,"v":0.912},{"s":"D","n":"A","t":126.7,"v":0.882},{"s":"D","n":"A","t":128.2,"v":0.847},{"s":"D","n":"A","t":130.0,"v":0.803},{"s":"D","n":"A","t":131.8,"v":0.906},{"s":"D","n":"A","t":133.3,"v":0.847},{"s":"D","n":"A","t":134.9,"v":0.824},{"s":"D","n":"A","t":136.6,"v":0.824},

      {"s":"E","n":"N","t":25.8,"v":1.0},{"s":"E","n":"N","t":65.7,"v":1.0},{"s":"E","n":"N","t":66.8,"v":0.91},{"s":"E","n":"N","t":67.9,"v":0.785},{"s":"E","n":"N","t":69.2,"v":0.96},{"s":"E","n":"N","t":70.1,"v":1.0},{"s":"E","n":"N","t":71.4,"v":1.0},{"s":"E","n":"N","t":72.8,"v":0.0},{"s":"E","n":"N","t":74.1,"v":0.0},{"s":"E","n":"N","t":75.4,"v":1.0},{"s":"E","n":"N","t":76.3,"v":1.0},{"s":"E","n":"N","t":77.2,"v":0.0},{"s":"E","n":"N","t":80.1,"v":0.0},{"s":"E","n":"N","t":81.6,"v":0.95},{"s":"E","n":"N","t":82.5,"v":1.0},{"s":"E","n":"N","t":85.6,"v":1.0},{"s":"E","n":"N","t":86.7,"v":0.93},{"s":"E","n":"N","t":87.9,"v":1.0},{"s":"E","n":"N","t":136.6,"v":1.0},
      {"s":"E","n":"A","t":28.0,"v":1.0},{"s":"E","n":"A","t":30.2,"v":0.994},{"s":"E","n":"A","t":33.5,"v":0.985},{"s":"E","n":"A","t":35.7,"v":0.976},{"s":"E","n":"A","t":39.0,"v":0.971},{"s":"E","n":"A","t":42.4,"v":0.962},{"s":"E","n":"A","t":43.9,"v":0.894},{"s":"E","n":"A","t":45.7,"v":0.918},{"s":"E","n":"A","t":47.9,"v":0.932},{"s":"E","n":"A","t":50.1,"v":0.918},{"s":"E","n":"A","t":52.4,"v":0.882},{"s":"E","n":"A","t":54.6,"v":0.859},{"s":"E","n":"A","t":56.4,"v":0.844},{"s":"E","n":"A","t":57.9,"v":0.806},{"s":"E","n":"A","t":59.5,"v":0.771},{"s":"E","n":"A","t":60.8,"v":0.85},{"s":"E","n":"A","t":62.3,"v":0.6},{"s":"E","n":"A","t":63.9,"v":0.42},{"s":"E","n":"A","t":65.2,"v":0.3},{"s":"E","n":"A","t":66.1,"v":0.259},{"s":"E","n":"A","t":67.4,"v":0.5},{"s":"E","n":"A","t":69.0,"v":0.78},{"s":"E","n":"A","t":70.5,"v":0.45},{"s":"E","n":"A","t":72.3,"v":0.0},{"s":"E","n":"A","t":74.6,"v":0.0},{"s":"E","n":"A","t":75.6,"v":0.3},{"s":"E","n":"A","t":76.3,"v":0.55},{"s":"E","n":"A","t":77.2,"v":0.2},{"s":"E","n":"A","t":78.1,"v":0.0},{"s":"E","n":"A","t":80.1,"v":0.0},{"s":"E","n":"A","t":81.6,"v":0.5},{"s":"E","n":"A","t":83.4,"v":0.42},{"s":"E","n":"A","t":85.2,"v":0.35},{"s":"E","n":"A","t":87.4,"v":0.26},{"s":"E","n":"A","t":88.9,"v":0.35},{"s":"E","n":"A","t":90.5,"v":0.45},{"s":"E","n":"A","t":92.3,"v":0.55},{"s":"E","n":"A","t":94.5,"v":0.75},{"s":"E","n":"A","t":96.7,"v":0.85},{"s":"E","n":"A","t":98.9,"v":0.93},{"s":"E","n":"A","t":101.1,"v":0.83},{"s":"E","n":"A","t":103.4,"v":0.9},{"s":"E","n":"A","t":106.7,"v":0.95},{"s":"E","n":"A","t":110.0,"v":0.97},{"s":"E","n":"A","t":114.4,"v":0.99},{"s":"E","n":"A","t":118.9,"v":1.0},{"s":"E","n":"A","t":123.3,"v":0.99},{"s":"E","n":"A","t":127.7,"v":0.985},{"s":"E","n":"A","t":136.6,"v":0.985}
    ],
    "rmse": [
      {"s":"A","n":"N","t":24.1,"v":0.271},{"s":"A","n":"N","t":26.6,"v":0.22},{"s":"A","n":"N","t":29.1,"v":0.162},{"s":"A","n":"N","t":31.1,"v":0.148},{"s":"A","n":"N","t":32.9,"v":0.158},{"s":"A","n":"N","t":34.7,"v":0.131},{"s":"A","n":"N","t":36.2,"v":0.097},{"s":"A","n":"N","t":37.9,"v":0.107},{"s":"A","n":"N","t":39.7,"v":0.086},{"s":"A","n":"N","t":41.7,"v":0.06},{"s":"A","n":"N","t":44.2,"v":0.045},{"s":"A","n":"N","t":49.2,"v":0.039},{"s":"A","n":"N","t":54.3,"v":0.035},{"s":"A","n":"N","t":59.3,"v":0.029},{"s":"A","n":"N","t":64.3,"v":0.023},{"s":"A","n":"N","t":69.3,"v":0.016},{"s":"A","n":"N","t":74.4,"v":0.012},{"s":"A","n":"N","t":79.4,"v":0.01},{"s":"A","n":"N","t":84.4,"v":0.01},{"s":"A","n":"N","t":89.4,"v":0.014},{"s":"A","n":"N","t":93.2,"v":0.01},{"s":"A","n":"N","t":95.7,"v":0.018},{"s":"A","n":"N","t":98.2,"v":0.039},{"s":"A","n":"N","t":100.7,"v":0.01},{"s":"A","n":"N","t":103.2,"v":0.055},{"s":"A","n":"N","t":105.8,"v":0.014},{"s":"A","n":"N","t":108.3,"v":0.072},{"s":"A","n":"N","t":110.8,"v":0.01},{"s":"A","n":"N","t":113.3,"v":0.086},{"s":"A","n":"N","t":115.8,"v":0.01},{"s":"A","n":"N","t":118.3,"v":0.107},{"s":"A","n":"N","t":120.8,"v":0.127},{"s":"A","n":"N","t":123.3,"v":0.025},{"s":"A","n":"N","t":125.1,"v":0.189},{"s":"A","n":"N","t":127.1,"v":0.2},{"s":"A","n":"N","t":129.1,"v":0.014},{"s":"A","n":"N","t":130.9,"v":0.302},{"s":"A","n":"N","t":132.1,"v":0.25},{"s":"A","n":"N","t":133.4,"v":0.055},{"s":"A","n":"N","t":135.1,"v":0.158},
      {"s":"A","n":"A","t":22.1,"v":0.312},{"s":"A","n":"A","t":24.6,"v":0.277},{"s":"A","n":"A","t":26.6,"v":0.265},{"s":"A","n":"A","t":28.6,"v":0.23},{"s":"A","n":"A","t":30.4,"v":0.199},{"s":"A","n":"A","t":32.2,"v":0.183},{"s":"A","n":"A","t":34.2,"v":0.179},{"s":"A","n":"A","t":36.2,"v":0.158},{"s":"A","n":"A","t":37.9,"v":0.127},{"s":"A","n":"A","t":39.7,"v":0.142},{"s":"A","n":"A","t":41.7,"v":0.148},{"s":"A","n":"A","t":44.2,"v":0.138},{"s":"A","n":"A","t":46.2,"v":0.148},{"s":"A","n":"A","t":48.0,"v":0.127},{"s":"A","n":"A","t":49.7,"v":0.142},{"s":"A","n":"A","t":51.7,"v":0.131},{"s":"A","n":"A","t":53.8,"v":0.146},{"s":"A","n":"A","t":55.5,"v":0.129},{"s":"A","n":"A","t":57.3,"v":0.142},{"s":"A","n":"A","t":59.3,"v":0.127},{"s":"A","n":"A","t":61.3,"v":0.146},{"s":"A","n":"A","t":63.0,"v":0.129},{"s":"A","n":"A","t":65.1,"v":0.142},{"s":"A","n":"A","t":66.8,"v":0.125},{"s":"A","n":"A","t":68.8,"v":0.146},{"s":"A","n":"A","t":70.6,"v":0.127},{"s":"A","n":"A","t":72.6,"v":0.142},{"s":"A","n":"A","t":74.4,"v":0.127},{"s":"A","n":"A","t":76.4,"v":0.144},{"s":"A","n":"A","t":78.1,"v":0.125},{"s":"A","n":"A","t":80.1,"v":0.142},{"s":"A","n":"A","t":81.9,"v":0.127},{"s":"A","n":"A","t":84.4,"v":0.138},{"s":"A","n":"A","t":86.9,"v":0.129},{"s":"A","n":"A","t":89.4,"v":0.138},{"s":"A","n":"A","t":91.9,"v":0.127},{"s":"A","n":"A","t":94.4,"v":0.123},{"s":"A","n":"A","t":97.0,"v":0.131},{"s":"A","n":"A","t":99.5,"v":0.121},{"s":"A","n":"A","t":102.0,"v":0.129},{"s":"A","n":"A","t":104.5,"v":0.125},{"s":"A","n":"A","t":107.0,"v":0.133},{"s":"A","n":"A","t":109.5,"v":0.127},{"s":"A","n":"A","t":112.0,"v":0.138},{"s":"A","n":"A","t":114.5,"v":0.127},{"s":"A","n":"A","t":117.1,"v":0.142},{"s":"A","n":"A","t":119.6,"v":0.148},{"s":"A","n":"A","t":122.1,"v":0.158},{"s":"A","n":"A","t":124.1,"v":0.138},{"s":"A","n":"A","t":125.8,"v":0.199},{"s":"A","n":"A","t":127.6,"v":0.117},{"s":"A","n":"A","t":129.6,"v":0.271},{"s":"A","n":"A","t":130.9,"v":0.339},{"s":"A","n":"A","t":132.1,"v":0.22},{"s":"A","n":"A","t":133.4,"v":0.107},{"s":"A","n":"A","t":134.6,"v":0.199},{"s":"A","n":"A","t":135.9,"v":0.209},

      {"s":"B","n":"N","t":44.2,"v":0.186},{"s":"B","n":"N","t":46.7,"v":0.171},{"s":"B","n":"N","t":48.7,"v":0.155},{"s":"B","n":"N","t":50.5,"v":0.134},{"s":"B","n":"N","t":52.2,"v":0.13},{"s":"B","n":"N","t":54.3,"v":0.118},{"s":"B","n":"N","t":56.3,"v":0.124},{"s":"B","n":"N","t":58.0,"v":0.171},{"s":"B","n":"N","t":59.8,"v":0.144},{"s":"B","n":"N","t":61.8,"v":0.113},{"s":"B","n":"N","t":64.3,"v":0.109},{"s":"B","n":"N","t":66.8,"v":0.118},{"s":"B","n":"N","t":69.3,"v":0.165},{"s":"B","n":"N","t":71.3,"v":0.159},{"s":"B","n":"N","t":73.1,"v":0.13},{"s":"B","n":"N","t":74.9,"v":0.103},{"s":"B","n":"N","t":76.9,"v":0.082},{"s":"B","n":"N","t":79.4,"v":0.076},{"s":"B","n":"N","t":81.9,"v":0.072},{"s":"B","n":"N","t":83.9,"v":0.062},{"s":"B","n":"N","t":85.7,"v":0.093},{"s":"B","n":"N","t":87.4,"v":0.072},{"s":"B","n":"N","t":89.4,"v":0.082},{"s":"B","n":"N","t":91.4,"v":0.068},{"s":"B","n":"N","t":93.2,"v":0.103},{"s":"B","n":"N","t":95.0,"v":0.082},{"s":"B","n":"N","t":97.0,"v":0.068},{"s":"B","n":"N","t":99.5,"v":0.056},{"s":"B","n":"N","t":102.0,"v":0.052},{"s":"B","n":"N","t":104.5,"v":0.056},{"s":"B","n":"N","t":107.0,"v":0.052},{"s":"B","n":"N","t":109.5,"v":0.047},{"s":"B","n":"N","t":112.0,"v":0.041},{"s":"B","n":"N","t":114.5,"v":0.047},{"s":"B","n":"N","t":117.1,"v":0.062},{"s":"B","n":"N","t":119.6,"v":0.093},{"s":"B","n":"N","t":122.1,"v":0.124},{"s":"B","n":"N","t":124.1,"v":0.113},{"s":"B","n":"N","t":126.6,"v":0.035},{"s":"B","n":"N","t":128.4,"v":0.196},{"s":"B","n":"N","t":130.1,"v":0.464},{"s":"B","n":"N","t":131.6,"v":0.454},{"s":"B","n":"N","t":133.4,"v":0.031},{"s":"B","n":"N","t":134.6,"v":0.155},{"s":"B","n":"N","t":135.9,"v":0.303},
      {"s":"B","n":"A","t":55.5,"v":0.124},{"s":"B","n":"A","t":58.0,"v":0.138},{"s":"B","n":"A","t":59.8,"v":0.155},{"s":"B","n":"A","t":61.8,"v":0.134},{"s":"B","n":"A","t":63.8,"v":0.118},{"s":"B","n":"A","t":65.6,"v":0.13},{"s":"B","n":"A","t":68.1,"v":0.113},{"s":"B","n":"A","t":70.6,"v":0.144},{"s":"B","n":"A","t":73.1,"v":0.124},{"s":"B","n":"A","t":75.6,"v":0.144},{"s":"B","n":"A","t":77.4,"v":0.118},{"s":"B","n":"A","t":79.4,"v":0.155},{"s":"B","n":"A","t":81.4,"v":0.241},{"s":"B","n":"A","t":83.1,"v":0.175},{"s":"B","n":"A","t":84.9,"v":0.144},{"s":"B","n":"A","t":86.9,"v":0.118},{"s":"B","n":"A","t":89.4,"v":0.103},{"s":"B","n":"A","t":91.9,"v":0.093},{"s":"B","n":"A","t":94.4,"v":0.089},{"s":"B","n":"A","t":97.0,"v":0.076},{"s":"B","n":"A","t":99.5,"v":0.068},{"s":"B","n":"A","t":102.0,"v":0.062},{"s":"B","n":"A","t":104.5,"v":0.068},{"s":"B","n":"A","t":107.0,"v":0.062},{"s":"B","n":"A","t":109.5,"v":0.066},{"s":"B","n":"A","t":112.0,"v":0.072},{"s":"B","n":"A","t":114.5,"v":0.068},{"s":"B","n":"A","t":117.1,"v":0.082},{"s":"B","n":"A","t":119.6,"v":0.113},{"s":"B","n":"A","t":122.1,"v":0.134},{"s":"B","n":"A","t":124.1,"v":0.113},{"s":"B","n":"A","t":125.8,"v":0.082},{"s":"B","n":"A","t":127.6,"v":0.237},{"s":"B","n":"A","t":129.6,"v":0.649},{"s":"B","n":"A","t":131.4,"v":0.691},{"s":"B","n":"A","t":132.6,"v":0.526},{"s":"B","n":"A","t":134.1,"v":0.258},{"s":"B","n":"A","t":135.4,"v":0.144},

      {"s":"C","n":"N","t":46.7,"v":0.128},{"s":"C","n":"N","t":49.2,"v":0.128},{"s":"C","n":"N","t":51.2,"v":0.149},{"s":"C","n":"N","t":53.0,"v":0.161},{"s":"C","n":"N","t":54.8,"v":0.135},{"s":"C","n":"N","t":56.8,"v":0.145},{"s":"C","n":"N","t":58.8,"v":0.19},{"s":"C","n":"N","t":60.0,"v":0.155},{"s":"C","n":"N","t":61.3,"v":0.186},{"s":"C","n":"N","t":63.0,"v":0.176},{"s":"C","n":"N","t":64.3,"v":0.197},{"s":"C","n":"N","t":65.6,"v":0.224},{"s":"C","n":"N","t":67.3,"v":0.182},{"s":"C","n":"N","t":69.3,"v":0.207},{"s":"C","n":"N","t":71.1,"v":0.306},{"s":"C","n":"N","t":72.3,"v":0.207},{"s":"C","n":"N","t":73.1,"v":0.149},{"s":"C","n":"N","t":74.4,"v":0.186},{"s":"C","n":"N","t":75.4,"v":0.306},{"s":"C","n":"N","t":76.4,"v":0.228},{"s":"C","n":"N","t":77.4,"v":0.166},{"s":"C","n":"N","t":79.4,"v":0.135},{"s":"C","n":"N","t":81.9,"v":0.104},{"s":"C","n":"N","t":84.4,"v":0.093},{"s":"C","n":"N","t":86.9,"v":0.083},{"s":"C","n":"N","t":89.4,"v":0.072},{"s":"C","n":"N","t":91.9,"v":0.07},{"s":"C","n":"N","t":94.4,"v":0.066},{"s":"C","n":"N","t":97.0,"v":0.072},{"s":"C","n":"N","t":99.5,"v":0.056},{"s":"C","n":"N","t":104.5,"v":0.056},{"s":"C","n":"N","t":109.5,"v":0.052},{"s":"C","n":"N","t":114.5,"v":0.052},{"s":"C","n":"N","t":117.1,"v":0.066},{"s":"C","n":"N","t":119.6,"v":0.052},{"s":"C","n":"N","t":123.3,"v":0.046},{"s":"C","n":"N","t":127.1,"v":0.052},{"s":"C","n":"N","t":129.6,"v":0.062},{"s":"C","n":"N","t":132.1,"v":0.056},{"s":"C","n":"N","t":135.4,"v":0.041},
      {"s":"C","n":"A","t":60.5,"v":0.186},{"s":"C","n":"A","t":63.0,"v":0.182},{"s":"C","n":"A","t":65.6,"v":0.155},{"s":"C","n":"A","t":68.1,"v":0.124},{"s":"C","n":"A","t":70.6,"v":0.114},{"s":"C","n":"A","t":72.3,"v":0.12},{"s":"C","n":"A","t":74.4,"v":0.149},{"s":"C","n":"A","t":76.4,"v":0.128},{"s":"C","n":"A","t":78.1,"v":0.108},{"s":"C","n":"A","t":80.6,"v":0.099},{"s":"C","n":"A","t":83.1,"v":0.093},{"s":"C","n":"A","t":85.7,"v":0.087},{"s":"C","n":"A","t":87.7,"v":0.104},{"s":"C","n":"A","t":89.4,"v":0.12},{"s":"C","n":"A","t":91.4,"v":0.099},{"s":"C","n":"A","t":93.2,"v":0.108},{"s":"C","n":"A","t":94.9,"v":0.12},{"s":"C","n":"A","t":96.5,"v":0.141},{"s":"C","n":"A","t":98.2,"v":0.104},{"s":"C","n":"A","t":100.0,"v":0.079},{"s":"C","n":"A","t":102.0,"v":0.079},{"s":"C","n":"A","t":104.5,"v":0.087},{"s":"C","n":"A","t":106.5,"v":0.083},{"s":"C","n":"A","t":108.3,"v":0.058},{"s":"C","n":"A","t":110.8,"v":0.072},{"s":"C","n":"A","t":113.3,"v":0.12},{"s":"C","n":"A","t":115.8,"v":0.145},{"s":"C","n":"A","t":118.3,"v":0.145},{"s":"C","n":"A","t":120.8,"v":0.135},{"s":"C","n":"A","t":123.3,"v":0.114},{"s":"C","n":"A","t":125.8,"v":0.072},{"s":"C","n":"A","t":128.4,"v":0.062},{"s":"C","n":"A","t":130.9,"v":0.058},{"s":"C","n":"A","t":133.4,"v":0.052},{"s":"C","n":"A","t":135.4,"v":0.046},

      {"s":"D","n":"N","t":17.8,"v":0.161},{"s":"D","n":"N","t":20.3,"v":0.12},{"s":"D","n":"N","t":22.9,"v":0.087},{"s":"D","n":"N","t":26.6,"v":0.054},{"s":"D","n":"N","t":30.4,"v":0.041},{"s":"D","n":"N","t":34.2,"v":0.033},{"s":"D","n":"N","t":39.2,"v":0.021},{"s":"D","n":"N","t":44.2,"v":0.012},{"s":"D","n":"N","t":51.7,"v":0.006},{"s":"D","n":"N","t":61.8,"v":0.004},{"s":"D","n":"N","t":86.9,"v":0.002},{"s":"D","n":"N","t":112.0,"v":0.002},{"s":"D","n":"N","t":135.4,"v":0.006},
      {"s":"D","n":"A","t":18.6,"v":0.309},{"s":"D","n":"A","t":19.3,"v":0.289},{"s":"D","n":"A","t":20.3,"v":0.33},{"s":"D","n":"A","t":21.6,"v":0.254},{"s":"D","n":"A","t":22.9,"v":0.198},{"s":"D","n":"A","t":24.1,"v":0.171},{"s":"D","n":"A","t":26.1,"v":0.192},{"s":"D","n":"A","t":27.9,"v":0.206},{"s":"D","n":"A","t":29.6,"v":0.165},{"s":"D","n":"A","t":31.6,"v":0.151},{"s":"D","n":"A","t":33.7,"v":0.169},{"s":"D","n":"A","t":35.4,"v":0.144},{"s":"D","n":"A","t":37.2,"v":0.157},{"s":"D","n":"A","t":39.2,"v":0.14},{"s":"D","n":"A","t":41.2,"v":0.151},{"s":"D","n":"A","t":43.0,"v":0.136},{"s":"D","n":"A","t":44.7,"v":0.14},{"s":"D","n":"A","t":46.7,"v":0.12},{"s":"D","n":"A","t":48.7,"v":0.136},{"s":"D","n":"A","t":50.5,"v":0.115},{"s":"D","n":"A","t":52.2,"v":0.132},{"s":"D","n":"A","t":54.3,"v":0.115},{"s":"D","n":"A","t":56.3,"v":0.14},{"s":"D","n":"A","t":58.0,"v":0.115},{"s":"D","n":"A","t":59.8,"v":0.13},{"s":"D","n":"A","t":61.8,"v":0.12},{"s":"D","n":"A","t":64.3,"v":0.136},{"s":"D","n":"A","t":66.8,"v":0.124},{"s":"D","n":"A","t":69.3,"v":0.14},{"s":"D","n":"A","t":71.8,"v":0.128},{"s":"D","n":"A","t":74.4,"v":0.134},{"s":"D","n":"A","t":76.9,"v":0.124},{"s":"D","n":"A","t":79.4,"v":0.128},{"s":"D","n":"A","t":81.9,"v":0.132},{"s":"D","n":"A","t":84.4,"v":0.115},{"s":"D","n":"A","t":86.9,"v":0.124},{"s":"D","n":"A","t":89.4,"v":0.103},{"s":"D","n":"A","t":91.9,"v":0.115},{"s":"D","n":"A","t":94.4,"v":0.095},{"s":"D","n":"A","t":97.0,"v":0.107},{"s":"D","n":"A","t":99.5,"v":0.099},{"s":"D","n":"A","t":102.0,"v":0.095},{"s":"D","n":"A","t":104.5,"v":0.099},{"s":"D","n":"A","t":107.0,"v":0.103},{"s":"D","n":"A","t":109.5,"v":0.095},{"s":"D","n":"A","t":112.0,"v":0.091},{"s":"D","n":"A","t":114.5,"v":0.099},{"s":"D","n":"A","t":117.1,"v":0.087},{"s":"D","n":"A","t":119.6,"v":0.095},{"s":"D","n":"A","t":122.1,"v":0.082},{"s":"D","n":"A","t":124.6,"v":0.089},{"s":"D","n":"A","t":127.1,"v":0.078},{"s":"D","n":"A","t":129.6,"v":0.074},{"s":"D","n":"A","t":131.6,"v":0.082},{"s":"D","n":"A","t":133.4,"v":0.095},{"s":"D","n":"A","t":135.4,"v":0.115},

      {"s":"E","n":"N","t":24.6,"v":0.133},{"s":"E","n":"N","t":26.6,"v":0.104},{"s":"E","n":"N","t":28.6,"v":0.088},{"s":"E","n":"N","t":30.4,"v":0.098},{"s":"E","n":"N","t":32.9,"v":0.083},{"s":"E","n":"N","t":35.4,"v":0.071},{"s":"E","n":"N","t":37.9,"v":0.063},{"s":"E","n":"N","t":40.4,"v":0.056},{"s":"E","n":"N","t":42.9,"v":0.046},{"s":"E","n":"N","t":45.5,"v":0.042},{"s":"E","n":"N","t":48.0,"v":0.035},{"s":"E","n":"N","t":50.5,"v":0.046},{"s":"E","n":"N","t":52.2,"v":0.071},{"s":"E","n":"N","t":54.3,"v":0.083},{"s":"E","n":"N","t":56.8,"v":0.077},{"s":"E","n":"N","t":58.8,"v":0.056},{"s":"E","n":"N","t":60.5,"v":0.088},{"s":"E","n":"N","t":62.3,"v":0.192},{"s":"E","n":"N","t":63.8,"v":0.229},{"s":"E","n":"N","t":65.3,"v":0.196},{"s":"E","n":"N","t":66.8,"v":0.129},{"s":"E","n":"N","t":68.6,"v":0.063},{"s":"E","n":"N","t":70.1,"v":0.296},{"s":"E","n":"N","t":71.1,"v":0.431},{"s":"E","n":"N","t":72.3,"v":0.467},{"s":"E","n":"N","t":73.6,"v":0.358},{"s":"E","n":"N","t":74.9,"v":0.046},{"s":"E","n":"N","t":75.9,"v":0.15},{"s":"E","n":"N","t":77.1,"v":0.275},{"s":"E","n":"N","t":78.4,"v":0.213},{"s":"E","n":"N","t":79.9,"v":0.088},{"s":"E","n":"N","t":81.9,"v":0.029},{"s":"E","n":"N","t":83.9,"v":0.056},{"s":"E","n":"N","t":86.4,"v":0.071},{"s":"E","n":"N","t":88.2,"v":0.077},{"s":"E","n":"N","t":89.9,"v":0.067},{"s":"E","n":"N","t":92.4,"v":0.042},{"s":"E","n":"N","t":94.9,"v":0.029},{"s":"E","n":"N","t":96.9,"v":0.042},{"s":"E","n":"N","t":99.5,"v":0.05},{"s":"E","n":"N","t":102.0,"v":0.046},{"s":"E","n":"N","t":104.5,"v":0.035},{"s":"E","n":"N","t":107.0,"v":0.031},{"s":"E","n":"N","t":109.5,"v":0.033},{"s":"E","n":"N","t":112.0,"v":0.035},{"s":"E","n":"N","t":114.5,"v":0.038},{"s":"E","n":"N","t":117.1,"v":0.042},{"s":"E","n":"N","t":119.6,"v":0.046},{"s":"E","n":"N","t":122.1,"v":0.046},{"s":"E","n":"N","t":124.6,"v":0.05},{"s":"E","n":"N","t":127.1,"v":0.054},{"s":"E","n":"N","t":129.6,"v":0.056},{"s":"E","n":"N","t":132.1,"v":0.056},{"s":"E","n":"N","t":135.4,"v":0.056},
      {"s":"E","n":"A","t":26.6,"v":0.125},{"s":"E","n":"A","t":29.1,"v":0.113},{"s":"E","n":"A","t":31.6,"v":0.098},{"s":"E","n":"A","t":34.2,"v":0.088},{"s":"E","n":"A","t":36.7,"v":0.077},{"s":"E","n":"A","t":39.2,"v":0.071},{"s":"E","n":"A","t":42.2,"v":0.077},{"s":"E","n":"A","t":44.7,"v":0.073},{"s":"E","n":"A","t":47.2,"v":0.071},{"s":"E","n":"A","t":49.7,"v":0.071},{"s":"E","n":"A","t":52.2,"v":0.075},{"s":"E","n":"A","t":54.8,"v":0.081},{"s":"E","n":"A","t":57.3,"v":0.088},{"s":"E","n":"A","t":59.3,"v":0.088},{"s":"E","n":"A","t":61.3,"v":0.14},{"s":"E","n":"A","t":63.0,"v":0.202},{"s":"E","n":"A","t":64.8,"v":0.181},{"s":"E","n":"A","t":66.3,"v":0.14},{"s":"E","n":"A","t":68.1,"v":0.088},{"s":"E","n":"A","t":69.3,"v":0.171},{"s":"E","n":"A","t":70.8,"v":0.4},{"s":"E","n":"A","t":72.1,"v":0.483},{"s":"E","n":"A","t":73.3,"v":0.379},{"s":"E","n":"A","t":74.4,"v":0.171},{"s":"E","n":"A","t":75.4,"v":0.056},{"s":"E","n":"A","t":76.4,"v":0.192},{"s":"E","n":"A","t":77.4,"v":0.285},{"s":"E","n":"A","t":78.4,"v":0.223},{"s":"E","n":"A","t":79.9,"v":0.088},{"s":"E","n":"A","t":81.9,"v":0.035},{"s":"E","n":"A","t":84.4,"v":0.063},{"s":"E","n":"A","t":86.9,"v":0.077},{"s":"E","n":"A","t":89.4,"v":0.067},{"s":"E","n":"A","t":91.9,"v":0.046},{"s":"E","n":"A","t":94.4,"v":0.035},{"s":"E","n":"A","t":96.9,"v":0.046},{"s":"E","n":"A","t":99.5,"v":0.05},{"s":"E","n":"A","t":102.0,"v":0.046},{"s":"E","n":"A","t":104.5,"v":0.042},{"s":"E","n":"A","t":107.0,"v":0.042},{"s":"E","n":"A","t":109.5,"v":0.046},{"s":"E","n":"A","t":112.0,"v":0.046},{"s":"E","n":"A","t":117.1,"v":0.05},{"s":"E","n":"A","t":122.1,"v":0.054},{"s":"E","n":"A","t":127.1,"v":0.058},{"s":"E","n":"A","t":132.1,"v":0.063},{"s":"E","n":"A","t":135.4,"v":0.06}
    ],
    "strips": [
      {"s":"A","label":"Abrupt\ndecrease"},{"s":"B","label":"Abrupt\nincrease"},{"s":"C","label":"Constant"},{"s":"D","label":"Linear\ndecrease"},{"s":"E","label":"Linear\nincrease"}
    ]
  },
  "spacing": 1.5,
  "hconcat": [
    {
      "spacing": 4.5,
      "hconcat": [
        {
          "data": {"name": "re"},
          "facet": {"row": {"field": "s", "type": "nominal", "title": "Reproductive number", "header": {"labels": false, "titlePadding": -12.5}}},
          "spacing": 7.25,
          "spec": {
            "width": 257, "height": 124,
            "encoding": {
              "x": {"field": "t", "type": "quantitative", "title": "Time",
                "scale": {"domain": [-7.5, 157.5], "nice": false, "zero": false},
                "axis": {"values": [0,25,50,75,100,125,150], "labelExpr": "datum.value % 50 === 0 ? datum.label : ''",
                  "gridColor": {"condition": {"test": "datum.value % 50 === 0", "value": "#e9e9e9"}, "value": "#f4f4f4"},
                  "tickOpacity": {"condition": {"test": "datum.value % 50 === 0", "value": 1}, "value": 0}, "titlePadding": 1}}
            },
            "layer": [
              {"transform": [{"filter": "datum.n == 'N'"}], "mark": {"type": "area", "opacity": 0.26},
               "encoding": {
                 "y": {"field": "lo", "type": "quantitative", "title": null,
                   "scale": {"domain": [-0.15, 3.15], "nice": false, "zero": false},
                   "axis": {"values": [0,0.5,1,1.5,2,2.5,3], "labelExpr": "datum.value % 1 === 0 ? datum.label : ''",
                     "gridColor": {"condition": {"test": "datum.value % 1 === 0", "value": "#e9e9e9"}, "value": "#f4f4f4"},
                     "tickOpacity": {"condition": {"test": "datum.value % 1 === 0", "value": 1}, "value": 0}}},
                 "y2": {"field": "hi"},
                 "color": {"field": "n", "type": "nominal", "scale": {"domain": ["N","A"], "range": ["#31688E","#35B779"]},
                   "legend": {"title": "Noise model:", "labelExpr": "datum.label == 'N' ? 'No noise' : 'Autocorrelated'",
                     "encode": {"symbols": {"update": {"fill": {"scale": "color", "field": "value"}, "fillOpacity": {"value": 0.3}, "stroke": {"scale": "color", "field": "value"}, "strokeWidth": {"value": 1.5}, "opacity": {"value": 1}}}}}}
               }},
              {"transform": [{"filter": "datum.n == 'A'"}], "mark": {"type": "area", "opacity": 0.3},
               "encoding": {"y": {"field": "lo", "type": "quantitative", "title": null}, "y2": {"field": "hi"}, "color": {"field": "n", "type": "nominal"}}},
              {"transform": [{"filter": "datum.n == 'T'"}], "mark": {"type": "line", "color": "black", "strokeWidth": 1.5},
               "encoding": {"y": {"field": "m", "type": "quantitative", "title": null}}},
              {"transform": [{"filter": "datum.n == 'N'"}], "mark": {"type": "line", "strokeWidth": 1.8},
               "encoding": {"y": {"field": "m", "type": "quantitative", "title": null}, "color": {"field": "n", "type": "nominal"}}},
              {"transform": [{"filter": "datum.n == 'A'"}], "mark": {"type": "line", "strokeWidth": 1.8},
               "encoding": {"y": {"field": "m", "type": "quantitative", "title": null}, "color": {"field": "n", "type": "nominal"}}}
            ]
          }
        },
        {
          "data": {"name": "cov"},
          "facet": {"row": {"field": "s", "type": "nominal", "title": "Coverage", "header": {"labels": false, "titlePadding": -8}}},
          "spacing": 7.25,
          "spec": {
            "width": 248, "height": 124,
            "encoding": {
              "x": {"field": "t", "type": "quantitative", "title": "Time",
                "scale": {"domain": [-7.5, 157.5], "nice": false, "zero": false},
                "axis": {"values": [0,25,50,75,100,125,150], "labelExpr": "datum.value % 50 === 0 ? datum.label : ''",
                  "gridColor": {"condition": {"test": "datum.value % 50 === 0", "value": "#e9e9e9"}, "value": "#f4f4f4"},
                  "tickOpacity": {"condition": {"test": "datum.value % 50 === 0", "value": 1}, "value": 0}, "titlePadding": 1}},
              "y": {"field": "v", "type": "quantitative", "title": null,
                "scale": {"domain": [-0.05, 1.05], "nice": false, "zero": false},
                "axis": {"values": [0,0.125,0.25,0.375,0.5,0.625,0.75,0.875,1], "format": ".2f", "labelExpr": "datum.value % 0.25 === 0 ? datum.label : ''",
                  "gridColor": {"condition": {"test": "datum.value % 0.25 === 0", "value": "#e9e9e9"}, "value": "#f4f4f4"},
                  "tickOpacity": {"condition": {"test": "datum.value % 0.25 === 0", "value": 1}, "value": 0}}},
              "color": {"field": "n", "type": "nominal"}
            },
            "layer": [
              {"transform": [{"filter": "datum.n == 'N'"}], "mark": {"type": "line", "strokeWidth": 1.8}},
              {"transform": [{"filter": "datum.n == 'A'"}], "mark": {"type": "line", "strokeWidth": 1.8}}
            ]
          }
        }
      ]
    },
    {
      "spacing": 0,
      "hconcat": [
        {
          "data": {"name": "rmse"},
          "facet": {"row": {"field": "s", "type": "nominal", "title": "RMSE", "header": {"labels": false, "titlePadding": -4.2}}},
          "spacing": 7.25,
          "spec": {
            "width": 219, "height": 124,
            "encoding": {
              "x": {"field": "t", "type": "quantitative", "title": "Time",
                "scale": {"domain": [-7.5, 157.5], "nice": false, "zero": false},
                "axis": {"values": [0,25,50,75,100,125,150], "labelExpr": "datum.value % 50 === 0 ? datum.label : ''",
                  "gridColor": {"condition": {"test": "datum.value % 50 === 0", "value": "#e9e9e9"}, "value": "#f4f4f4"},
                  "tickOpacity": {"condition": {"test": "datum.value % 50 === 0", "value": 1}, "value": 0}, "titlePadding": 1}},
              "y": {"field": "v", "type": "quantitative", "title": null,
                "scale": {"domain": [-0.035, 0.725], "nice": false, "zero": false},
                "axis": {"values": [0,0.1,0.2,0.3,0.4,0.5,0.6,0.7], "format": ".1f", "labelExpr": "round(datum.value * 10) % 2 === 0 ? datum.label : ''",
                  "gridColor": {"condition": {"test": "round(datum.value * 10) % 2 === 0", "value": "#e9e9e9"}, "value": "#f4f4f4"},
                  "tickOpacity": {"condition": {"test": "round(datum.value * 10) % 2 === 0", "value": 1}, "value": 0}}},
              "color": {"field": "n", "type": "nominal"}
            },
            "layer": [
              {"transform": [{"filter": "datum.n == 'N'"}], "mark": {"type": "line", "strokeWidth": 1.8}},
              {"transform": [{"filter": "datum.n == 'A'"}], "mark": {"type": "line", "strokeWidth": 1.8}}
            ]
          }
        },
        {
          "data": {"name": "strips"},
          "facet": {"row": {"field": "s", "type": "nominal", "header": null}},
          "spacing": 7.25,
          "spec": {
            "width": 36, "height": 124,
            "view": {"stroke": "#a0a0a0", "fill": "white"},
            "mark": {"type": "text", "angle": 90, "fontSize": 14.5, "lineBreak": "\n", "lineHeight": 16, "color": "#1a1a1a", "align": "center", "baseline": "middle", "font": "Liberation Sans"},
            "encoding": {"text": {"field": "label", "type": "nominal"}}
          }
        }
      ]
    }
  ]
}
